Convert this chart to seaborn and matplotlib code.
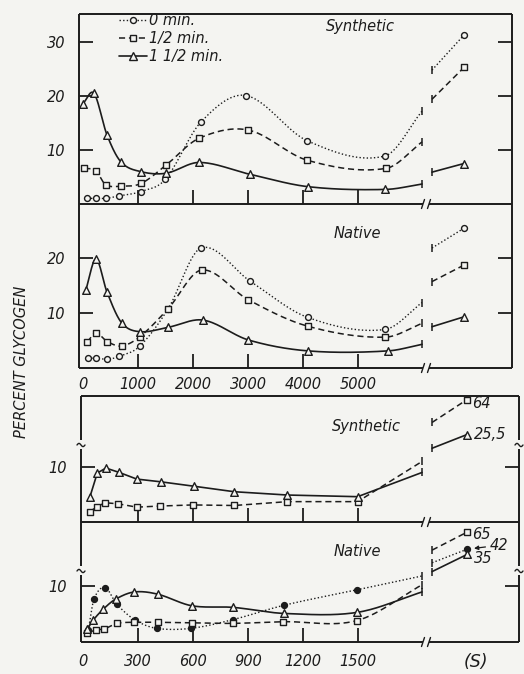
import numpy as np
import matplotlib
matplotlib.use("Agg")
import matplotlib.pyplot as plt
import seaborn as sns
from matplotlib.lines import Line2D
from matplotlib.scale import FuncScale

sns.set_theme(style="white")
plt.rcParams['font.family'] = ['DejaVu Sans']
plt.rcParams['font.style'] = 'italic'

INK = '#1c1c1c'
BG = '#f4f4f1'

# ---------------- data ----------------
labels = ["0 min.", "1/2 min.", "1 1/2 min."]

# upper panels (time in s, 0-6000)
syn_t0 = [80, 230, 410, 660, 1050, 1500, 2145, 2960, 4080, 5490]
syn_v0 = [1.05, 1.05, 1.05, 1.5, 2.3, 4.6, 15.2, 20.1, 11.7, 8.9]
syn_t1 = [25, 230, 410, 690, 1055, 1510, 2115, 3005, 4080, 5510]
syn_v1 = [6.6, 6.2, 3.6, 3.3, 3.8, 7.2, 12.2, 13.7, 8.1, 6.6]
syn_t2 = [0, 200, 436, 690, 1050, 1510, 2115, 3036, 4100, 5500]
syn_v2 = [18.6, 20.5, 12.8, 7.8, 6.0, 5.7, 7.7, 5.5, 3.2, 2.7]
syn_break = [17.2, 11.5, 3.7]
syn_resume = [24.8, 19.4, 5.9]
syn_final = [31.3, 25.3, 7.5]

nat_t0 = [85, 230, 442, 660, 1036, 1550, 2145, 3036, 4085, 5490]
nat_v0 = [1.8, 1.8, 1.6, 2.1, 4.0, 10.8, 21.8, 15.8, 9.2, 7.0]
nat_t1 = [78, 230, 442, 703, 1036, 1550, 2158, 3005, 4085, 5490]
nat_v1 = [4.7, 6.4, 4.8, 4.0, 5.7, 10.8, 17.8, 12.4, 7.6, 5.6]
nat_t2 = [49, 236, 436, 703, 1036, 1550, 2188, 3005, 4100, 5540]
nat_v2 = [14.1, 19.8, 13.8, 8.2, 6.6, 7.4, 8.7, 5.1, 3.1, 3.1]
nat_break = [11.9, 8.1, 4.3]
nat_resume = [21.8, 15.7, 7.5]
nat_final = [25.4, 18.7, 9.3]

# lower panels (time in s, 0-1500)
syn2_t1 = [38, 78, 120, 193, 293, 420, 598, 825, 1115, 1498]
syn2_v1 = [1.9, 2.8, 3.5, 3.3, 2.7, 2.9, 3.1, 3.0, 3.7, 3.7]
syn2_t2 = [38, 78, 125, 198, 293, 425, 605, 825, 1115, 1498]
syn2_v2 = [4.6, 8.9, 9.8, 9.0, 7.8, 7.3, 6.5, 5.5, 4.9, 4.6]
syn2_break = [11.0, 9.0]
syn2_resume = [38.8, 13.4]
syn2_final = [64, 25.5]

nat2_t0 = [29, 60, 120, 184, 284, 402, 589, 820, 1098, 1496]
nat2_v0 = [2.0, 7.6, 9.7, 6.7, 3.8, 2.3, 2.3, 3.9, 6.5, 9.3]
nat2_t1 = [23, 69, 116, 187, 280, 407, 593, 816, 1093, 1493]
nat2_v1 = [1.5, 2.0, 2.2, 3.2, 3.4, 3.4, 3.3, 3.2, 3.5, 3.7]
nat2_t2 = [23, 56, 111, 178, 280, 407, 593, 820, 1098, 1496]
nat2_v2 = [2.1, 3.8, 5.8, 7.6, 8.9, 8.5, 6.4, 6.1, 5.0, 5.2]
nat2_break = [11.8, 10.2, 8.9]
nat2_resume = [23.8, 40.8, 12.6]
nat2_final = [42, 65, 35]

top_xticks = [0, 1000, 2000, 3000, 4000, 5000]
bot_xticks = [0, 300, 600, 900, 1200, 1500]

# ---------------- layout ----------------
W, H = 524, 674
# break / final positions on x (layout, in axis units)
TOP_BRK, TOP_RES, TOP_FIN = 6164, 6345, 6927
BOT_BRK, BOT_RES, BOT_FIN = 1849, 1904, 2095

STY = [dict(ls=(0, (1, 1.6)), lw=1.0),
       dict(ls=(0, (4, 2.5)), lw=1.1),
       dict(ls='-', lw=1.2)]
MK = ['o', 's', '^']
MS = [18, 20, 30]

fig = plt.figure(figsize=(W / 100, H / 100), dpi=100, facecolor=BG)


def box(l, t, r, b):
    return [l / W, 1 - b / H, (r - l) / W, (b - t) / H]


ax1 = fig.add_axes(box(79, 14, 512, 204))
ax2 = fig.add_axes(box(79, 204, 512, 368))
ax3 = fig.add_axes(box(81, 396, 519, 522))
ax4 = fig.add_axes(box(81, 522, 519, 642))


def brk_scale(B, k):
    def fwd(v):
        v = np.asarray(v, float)
        return np.where(v <= B, v, B + (v - B) * k)

    def inv(d):
        d = np.asarray(d, float)
        return np.where(d <= B, d, B + (d - B) / k)
    return fwd, inv


ax3.set_yscale(FuncScale(ax3, brk_scale(14.0, 0.165)))
ax4.set_yscale(FuncScale(ax4, brk_scale(12.7, 0.135)))


def smooth(x, y, n=30):
    x = np.asarray(x, float)
    y = np.asarray(y, float)
    m = np.empty_like(y)
    m[1:-1] = (y[2:] - y[:-2]) / (x[2:] - x[:-2])
    m[0] = (y[1] - y[0]) / (x[1] - x[0])
    m[-1] = (y[-1] - y[-2]) / (x[-1] - x[-2])
    xs, ys = [], []
    s = np.linspace(0, 1, n, endpoint=False)
    h00 = 2 * s**3 - 3 * s**2 + 1
    h10 = s**3 - 2 * s**2 + s
    h01 = -2 * s**3 + 3 * s**2
    h11 = s**3 - s**2
    for i in range(len(x) - 1):
        h = x[i + 1] - x[i]
        xs.append(x[i] + s * h)
        ys.append(h00 * y[i] + h10 * h * m[i] + h01 * y[i + 1] + h11 * h * m[i + 1])
    xs.append([x[-1]])
    ys.append([y[-1]])
    return np.concatenate(xs), np.concatenate(ys)


def series(ax, t, v, brk, res, fin, idx, xb, xr, xf, curved=True, filled=False):
    nx = list(t) + [xb]
    ny = list(v) + [brk]
    if curved:
        cx, cy = smooth(nx, ny)
    else:
        cx, cy = nx, ny
    ax.plot(cx, cy, color=INK, zorder=2, **STY[idx])
    ax.plot([xb], [brk], marker='|', ms=6, mew=1.1, color=INK, zorder=2)
    ax.plot([xr, xf], [res, fin], color=INK, zorder=2, **STY[idx])
    ax.plot([xr], [res], marker='|', ms=6, mew=1.1, color=INK, zorder=2)
    fc = INK if filled else BG
    sns.scatterplot(x=list(t) + [xf], y=list(v) + [fin], ax=ax, marker=MK[idx],
                    s=MS[idx], color=INK, facecolor=fc, edgecolor=INK,
                    linewidth=1.0, zorder=3, legend=False)


# panel 1
for i, (t, v) in enumerate([(syn_t0, syn_v0), (syn_t1, syn_v1), (syn_t2, syn_v2)]):
    series(ax1, t, v, syn_break[i], syn_resume[i], syn_final[i], i, TOP_BRK, TOP_RES, TOP_FIN)
# panel 2
for i, (t, v) in enumerate([(nat_t0, nat_v0), (nat_t1, nat_v1), (nat_t2, nat_v2)]):
    series(ax2, t, v, nat_break[i], nat_resume[i], nat_final[i], i, TOP_BRK, TOP_RES, TOP_FIN)
# panel 3
for j, (t, v) in enumerate([(syn2_t1, syn2_v1), (syn2_t2, syn2_v2)]):
    series(ax3, t, v, syn2_break[j], syn2_resume[j], syn2_final[j], j + 1,
           BOT_BRK, BOT_RES, BOT_FIN, curved=False)
# panel 4
for i, (t, v) in enumerate([(nat2_t0, nat2_v0), (nat2_t1, nat2_v1), (nat2_t2, nat2_v2)]):
    series(ax4, t, v, nat2_break[i], nat2_resume[i], nat2_final[i], i,
           BOT_BRK, BOT_RES, BOT_FIN, curved=True, filled=(i == 0))


# value labels of the off-scale points
def px(p):
    return p / 1.389


ax3.annotate(f"{syn2_final[0]:g}", (BOT_FIN, syn2_final[0]), xytext=(px(5), px(-4)),
             textcoords='offset points', fontsize=10.5, color=INK, va='center')
ax3.annotate(f"{syn2_final[1]:g}".replace('.', ','), (BOT_FIN, syn2_final[1]), xytext=(px(7), 0),
             textcoords='offset points', fontsize=10.5, color=INK, va='center')
ax4.annotate(f"{nat2_final[1]:g}", (BOT_FIN, nat2_final[1]), xytext=(px(5), px(-2)),
             textcoords='offset points', fontsize=10.5, color=INK, va='center')
ax4.annotate(f"{nat2_final[0]:g}", (BOT_FIN, nat2_final[0]), xytext=(px(23), px(4)),
             textcoords='offset points', fontsize=10.5, color=INK, va='center',
             arrowprops=dict(arrowstyle='-|>', color=INK, lw=0.9, mutation_scale=6,
                             shrinkA=1, shrinkB=5))
ax4.annotate(f"{nat2_final[2]:g}", (BOT_FIN, nat2_final[2]), xytext=(px(7), px(-4)),
             textcoords='offset points', fontsize=10.5, color=INK, va='center')

# ---------------- axes styling ----------------
ax1.set_xlim(-72.7, 7800)
ax2.set_xlim(-72.7, 7800)
ax1.set_ylim(0, 35.2)
ax2.set_ylim(0, 29.8)
ax3.set_xlim(-10.9, 2378)
ax4.set_xlim(-10.9, 2378)
ax3.set_ylim(0, 67.9)
ax4.set_ylim(-0.18, 78.6)

ax1.set_yticks([10, 20, 30])
ax2.set_yticks([10, 20])
ax3.set_yticks([10])
ax4.set_yticks([10])
for ax in (ax1, ax2):
    ax.set_xticks(top_xticks)
for ax in (ax3, ax4):
    ax.set_xticks(bot_xticks)

for ax in (ax1, ax2, ax3, ax4):
    ax.set_facecolor('none')
    for sp in ax.spines.values():
        sp.set_visible(False)
    ax.tick_params(axis='both', which='both', direction='in', length=10, width=1.3,
                   color=INK, labelcolor=INK, labelsize=10.5,
                   left=True, right=True, top=False, bottom=True,
                   labelleft=True, labelright=False)
    ax.tick_params(axis='y', pad=px(14))
    ax.xaxis.get_major_ticks()[0].tick1line.set_visible(False)
    ax.set_xlabel('')
    ax.set_ylabel('')
    ax.grid(False)

ax1.tick_params(axis='x', labelbottom=False)
ax3.tick_params(axis='x', labelbottom=False)
ax2.tick_params(axis='x', pad=px(9))
ax4.tick_params(axis='x', pad=px(12))
ax2.set_xticklabels([str(t) for t in top_xticks])
ax4.set_xticklabels([str(t) for t in bot_xticks])

# panel names
ax1.text(0.649, 0.932, "Synthetic", transform=ax1.transAxes, ha='center', va='center',
         fontsize=10.5, color=INK)
ax2.text(0.642, 0.823, "Native", transform=ax2.transAxes, ha='center', va='center',
         fontsize=10.5, color=INK)
ax3.text(0.651, 0.754, "Synthetic", transform=ax3.transAxes, ha='center', va='center',
         fontsize=10.5, color=INK)
ax4.text(0.630, 0.75, "Native", transform=ax4.transAxes, ha='center', va='center',
         fontsize=10.5, color=INK)

# legend
handles = [Line2D([], [], color=INK, marker=MK[i], mfc=BG, mec=INK,
                  ms=[4.3, 4.5, 5.5][i], mew=1.0, **STY[i]) for i in range(3)]
ax1.legend(handles, labels, loc='upper left', bbox_to_anchor=(0.09, 1.012),
           frameon=False, fontsize=10.5, handlelength=1.9, handletextpad=0.15,
           labelspacing=0.2, borderpad=0.1, borderaxespad=0.0, labelcolor=INK)

fig.text(22 / W, 1 - 362 / H, "PERCENT GLYCOGEN", rotation=90, ha='center', va='center',
         fontsize=10.5, color=INK)
fig.text(476 / W, 1 - 662 / H, "(S)", ha='center', va='center', fontsize=12.5, color=INK)

# ---------------- frames with axis breaks ----------------
ov = fig.add_axes([0, 0, 1, 1], zorder=10)
ov.set_xlim(0, W)
ov.set_ylim(H, 0)
ov.axis('off')
ov.patch.set_alpha(0)
FR = dict(color=INK, lw=1.4, solid_capstyle='butt')
GAP = (423, 429)


def hbroken(y, l, r):
    ov.plot([l, GAP[0]], [y, y], **FR)
    ov.plot([GAP[1], r], [y, y], **FR)
    for gx in GAP:
        ov.plot([gx - 1.5, gx + 1.5], [y + 4.5, y - 4.5], color=INK, lw=1.0)


def vbroken(x, t, b, yb):
    ov.plot([x, x], [t, yb - 5], **FR)
    ov.plot([x, x], [yb + 4, b], **FR)
    xs = np.linspace(x - 4, x + 4, 20)
    ov.plot(xs, yb + 1.6 * np.sin((xs - x) / 4 * np.pi), color=INK, lw=1.0)


# upper block
ov.plot([79, 512], [14, 14], **FR)
ov.plot([79, 79], [14, 368], **FR)
ov.plot([512, 512], [14, 368], **FR)
hbroken(204, 79, 512)
hbroken(368, 79, 512)
# lower block
ov.plot([81, 519], [396, 396], **FR)
vbroken(81, 396, 522, 445)
vbroken(519, 396, 522, 445)
vbroken(81, 522, 642, 571)
vbroken(519, 522, 642, 571)
hbroken(522, 81, 519)
hbroken(642, 81, 519)

fig.savefig("out.png", dpi=100, facecolor=BG)
